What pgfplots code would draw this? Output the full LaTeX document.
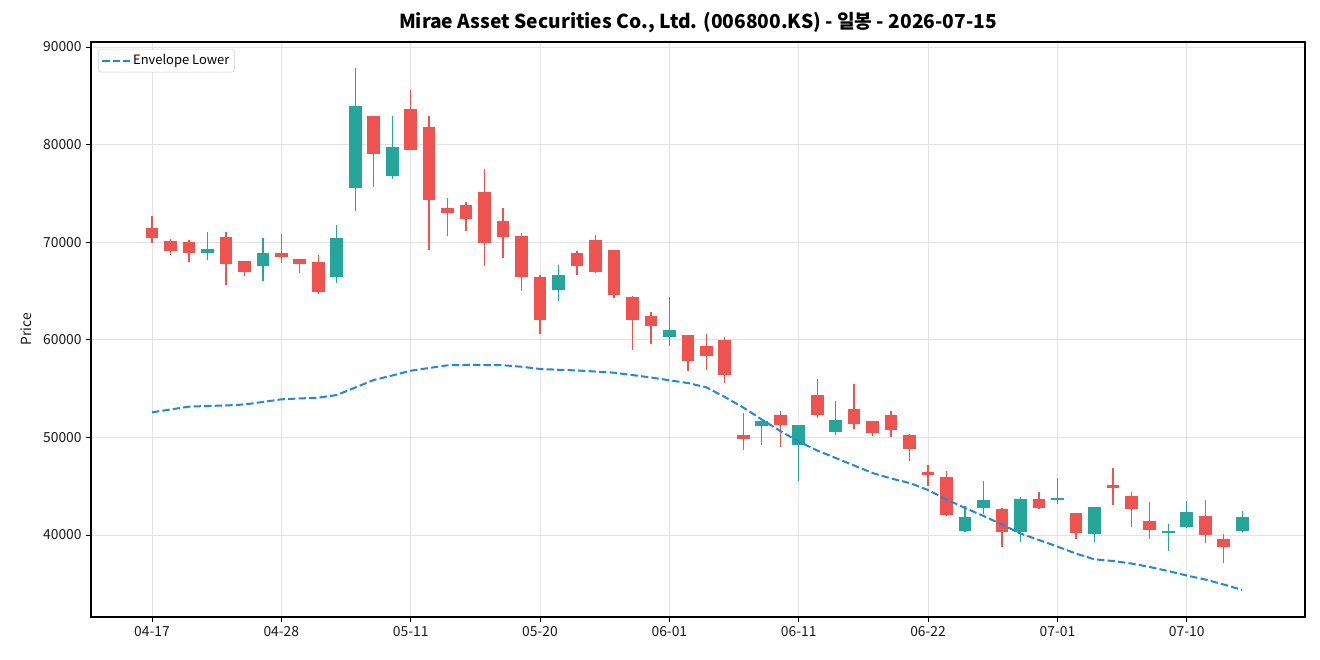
\documentclass[border=0pt]{standalone}
\usepackage{pgfplots}
\pgfplotsset{compat=1.18}
\usepackage{pgfplotstable}
\usepackage{fontspec}
\setmainfont{Noto Sans CJK KR}
\definecolor{upc}{HTML}{26A69A}
\definecolor{dnc}{HTML}{EF5350}
\definecolor{envc}{HTML}{1E88E5}
\pgfplotstableread{
i o h l c
3 68860 71050 68180 69270
6 67590 70430 66060 68860
10 66470 71760 65850 70400
11 75520 87850 73230 83930
13 76750 82970 76510 79730
22 65070 67630 64010 66610
28 60260 64390 59400 60970
33 51140 51650 49250 51650
35 49190 51240 45560 51240
37 50520 53730 50280 51750
44 40380 42940 40310 41810
45 42740 45530 42180 43560
47 40280 43860 39310 43660
49 43660 45840 43150 43760
51 40070 42840 39250 42840
55 40170 41100 38330 40380
56 40790 43510 40750 42330
59 40380 42490 40340 41810
}\up
\pgfplotstableread{
i o h l c
0 71430 72690 69950 70400
1 70090 70300 68720 69070
2 69990 70200 68000 68860
4 70500 71050 65620 67740
5 68040 68110 66570 66920
7 68860 70840 67900 68520
8 68250 68310 66880 67740
9 67940 68690 64690 64870
12 82900 82950 75690 79010
14 83620 85600 79420 79420
15 81770 82970 69230 74290
16 73470 74500 70670 72960
17 73780 74090 71180 72350
18 75110 77500 67590 69890
19 72140 73510 68410 70500
20 70610 70970 65030 66400
21 66400 66610 60630 62000
23 68860 69070 66670 67530
24 70200 70710 66810 66920
25 69170 69170 64310 64560
26 64360 64460 58990 62000
27 62410 62850 59600 61380
29 60460 60460 56830 57800
30 59330 60590 56940 58310
31 59950 60260 55540 56360
32 50220 52500 48740 49810
34 52260 52710 49050 51240
36 54310 55980 52020 52260
38 52880 55470 50890 51340
39 51650 51650 50110 50420
40 52260 52710 50080 50730
41 50220 50320 47610 48780
42 46490 47140 45050 46120
43 45910 46530 41980 42080
46 42630 42740 38740 40280
48 43660 44410 42630 42740
50 42220 42220 39560 40170
52 45090 46830 43040 44790
53 43970 44380 40790 42630
54 41400 43350 39620 40480
57 41920 43560 39210 39970
58 39560 40070 37160 38740
}\down
\pgfplotstableread{
i v
0 52570
1 52860
2 53150
3 53220
4 53270
5 53370
6 53630
7 53900
8 53990
9 54070
10 54340
11 55110
12 55880
13 56340
14 56830
15 57110
16 57390
17 57420
18 57420
19 57390
20 57240
21 57010
22 56930
23 56860
24 56750
25 56630
26 56390
27 56140
28 55850
29 55570
30 55130
31 54140
32 53060
33 51830
34 50660
35 49580
36 48660
37 47890
38 47120
39 46350
40 45790
41 45330
42 44610
43 43640
44 42770
45 41950
46 41080
47 40150
48 39490
49 38820
50 38100
51 37510
52 37340
53 37080
54 36720
55 36310
56 35850
57 35440
58 34930
59 34370
}\env
\begin{document}
\begin{tikzpicture}
\useasboundingbox (0,0) rectangle (990pt,495pt);
\begin{axis}[
  at={(68.25pt,32.25pt)}, anchor=south west,
  scale only axis, width=910.5pt, height=431.25pt,
  xmin=-3.3, xmax=62.4, ymin=31600, ymax=90510,
  xtick={0,7,14,21,28,35,42,49,56},
  xticklabels={04-17,04-28,05-11,05-20,06-01,06-11,06-22,07-01,07-10},
  ytick={40000,50000,60000,70000,80000,90000},
  scaled y ticks=false,
  /pgf/number format/1000 sep={},
  /pgf/number format/assume math mode=true,
  yticklabel={\pgfmathprintnumber[fixed,precision=0,1000 sep={},assume math mode=true]{\tick}},
  tick label style={font=\fontsize{10.4}{12}\selectfont, text=black!90},
  xtick pos=bottom, ytick pos=left, tick align=outside,
  major tick length=3.5pt,
  every tick/.style={black, line width=0.6pt},
  grid=major, grid style={gray!22, line width=0.6pt},
  axis line style={black, line width=0.8pt},
  ylabel={Price}, ylabel style={font=\fontsize{10.4}{12}\selectfont, text=black!90, xshift=0pt, yshift=2pt},
  title={\textbf{Mirae Asset Securities Co., Ltd. (006800.KS) - 일봉 - 2026-07-15}},
  title style={font=\fontsize{14.4}{16}\selectfont, yshift=-3pt},
  legend style={at={(0.006,0.988)}, anchor=north west, font=\fontsize{9.7}{11}\selectfont,
    draw=gray!35, rounded corners=2pt, inner sep=2pt, row sep=0pt},
  legend cell align=left,
  legend image code/.code={\draw[#1] (0cm,0cm) -- (0.72cm,0cm);},
  candle/.style={only marks, mark=*, mark size=0pt, mark options={draw=none, fill=none}, forget plot},
]
% wicks
\addplot[candle, error bars/.cd, y dir=both, y explicit, error mark=none,
  error bar style={upc, line width=1pt}]
  table[x=i, y expr={(\thisrow{h}+\thisrow{l})/2}, y error expr={(\thisrow{h}-\thisrow{l})/2}] {\up};
\addplot[candle, error bars/.cd, y dir=both, y explicit, error mark=none,
  error bar style={dnc, line width=1pt}]
  table[x=i, y expr={(\thisrow{h}+\thisrow{l})/2}, y error expr={(\thisrow{h}-\thisrow{l})/2}] {\down};
% bodies
\addplot[candle, error bars/.cd, y dir=both, y explicit, error mark=none,
  error bar style={upc, line width=9.5pt}]
  table[x=i, y expr={(\thisrow{o}+\thisrow{c})/2}, y error expr={max(abs(\thisrow{c}-\thisrow{o})/2,60)}] {\up};
\addplot[candle, error bars/.cd, y dir=both, y explicit, error mark=none,
  error bar style={dnc, line width=9.5pt}]
  table[x=i, y expr={(\thisrow{o}+\thisrow{c})/2}, y error expr={max(abs(\thisrow{c}-\thisrow{o})/2,60)}] {\down};
% envelope
\addplot[envc, line width=1.5pt, dash pattern=on 5.5pt off 2.4pt, mark=none] table[x=i, y=v] {\env};
\addlegendentry{Envelope Lower}
\end{axis}
\end{tikzpicture}
\end{document}
